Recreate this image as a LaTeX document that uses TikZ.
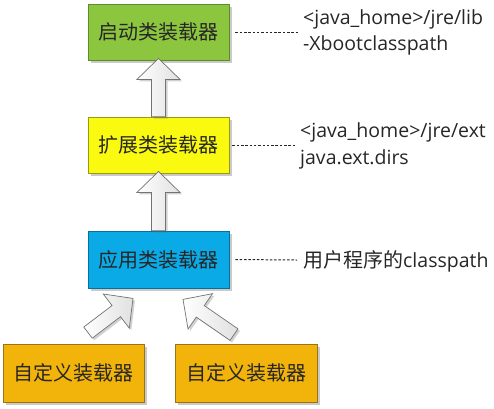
\documentclass[tikz,border=0pt]{standalone}
\usepackage{fontspec}
\setmainfont{Open Sans}
\newfontfamily\cjk{Noto Sans CJK SC}
\usetikzlibrary{calc,shadows}
\definecolor{cgreen}{HTML}{8CC63F}
\definecolor{cgreenD}{HTML}{5E8C2A}
\definecolor{cyellow}{HTML}{FAFA10}
\definecolor{cyellowD}{HTML}{9A9A10}
\definecolor{cblue}{HTML}{0AAAE6}
\definecolor{cblueD}{HTML}{0A6E9A}
\definecolor{corange}{HTML}{F2B40A}
\definecolor{corangeD}{HTML}{9A7410}
\definecolor{ctext}{HTML}{262626}
\tikzset{
  loader/.style={draw=#1D, fill=#1, line width=0.8pt, minimum width=141pt, minimum height=56pt,
    inner sep=0pt, font=\cjk\fontsize{20}{22}\selectfont, text=ctext,
    drop shadow={shadow xshift=2.5pt, shadow yshift=-2.5pt, opacity=.35, fill=black!60}},
  note/.style={anchor=base west, inner sep=0pt, font=\fontsize{19.5}{22}\selectfont, text=ctext},
  dashline/.style={draw=black!85, line width=1pt, dash pattern=on 2.5pt off 1.8pt},
  fatarr/.style={draw=black!55, line width=0.7pt, left color=white, right color=black!12,
    drop shadow={shadow xshift=2pt, shadow yshift=-2pt, opacity=.3, fill=black!60}},
}
\newcommand\fatarrow[2]{%
  \coordinate (fn) at ($(#2)!21pt!(#1)$);
  \path[fatarr] ($(#1)!7pt!90:(#2)$) -- ($(fn)!7pt!90:(#2)$) -- ($(fn)!21.5pt!90:(#2)$) -- (#2)
    -- ($(fn)!21.5pt!-90:(#2)$) -- ($(fn)!7pt!-90:(#2)$) -- ($(#1)!7pt!-90:(#2)$) -- cycle;}
\begin{document}
\begin{tikzpicture}[x=1pt,y=-1pt]
\useasboundingbox (0,0) rectangle (494,408);
\node[loader=cgreen] (b1) at (158.5,32) {启动类装载器};
\node[loader=cyellow] (b2) at (158.5,145) {扩展类装载器};
\node[loader=cblue, minimum height=57pt] (b3) at (158.5,259.5) {应用类装载器};
\node[loader=corange, minimum height=58pt] (b4) at (73.5,373) {自定义装载器};
\node[loader=corange, minimum height=58pt, minimum width=142pt] (b5) at (246,373) {自定义装载器};
% notes
\node[note] (n1a) at (303,24) {<java\_home>/jre/lib};
\node[note] (n1b) at (303,50) {-Xbootclasspath};
\node[note] (n2a) at (300,137) {<java\_home>/jre/ext};
\node[note] (n2b) at (300,164) {java.ext.dirs};
\node[note] (n3) at (303,267) {{\cjk\fontsize{20}{22}\selectfont 用户程序的}classpath};
% dashed leaders
\coordinate (d1s) at ($(b1.east)+(6,0)$);
\coordinate (d1e) at (298,32);
\coordinate (d2s) at ($(b2.east)+(3,0)$);
\coordinate (d2e) at (296,145);
\coordinate (d3s) at ($(b3.east)+(6,0)$);
\coordinate (d3e) at (297,260);
\draw[dashline] (d1s) -- (d1e);
\draw[dashline] (d2s) -- (d2e);
\draw[dashline] (d3s) -- (d3e);
% arrows
\coordinate (a1t) at (b2.north);
\coordinate (a1h) at ($(b1.south)+(0,-2)$);
\coordinate (a2t) at (b3.north);
\coordinate (a2h) at ($(b2.south)+(0,-2)$);
\coordinate (a3t) at ($(b4.north)+(14.5,-11)$);
\coordinate (a3h) at ($(b3.south)+(-25.5,10)$);
\coordinate (a4t) at ($(b5.north)+(-12,-9)$);
\coordinate (a4h) at ($(b3.south)+(24.5,11)$);
\fatarrow{a1t}{a1h}
\fatarrow{a2t}{a2h}
\fatarrow{a3t}{a3h}
\fatarrow{a4t}{a4h}
\end{tikzpicture}
\end{document}
